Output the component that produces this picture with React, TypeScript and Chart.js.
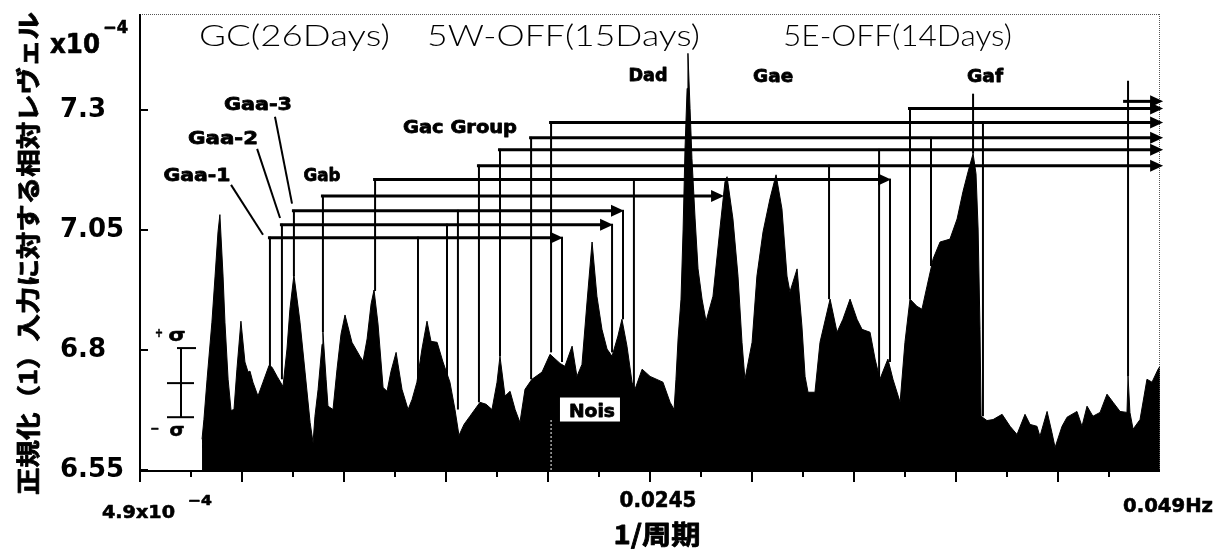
import React, { useEffect, useRef } from 'react';
import { Chart, registerables } from 'chart.js';

Chart.register(...registerables);

// Spectrum: frequency (Hz) and normalized level (x10^-4)
const FREQ_HZ = [
  0.00344, 0.00353, 0.00368, 0.00391, 0.00406, 0.0042, 0.00429, 0.00444, 0.00453, 0.00468,
  0.00482, 0.00496, 0.0051, 0.00529, 0.00548, 0.00563, 0.00572, 0.00586, 0.0061, 0.00634,
  0.00663, 0.00677, 0.00701, 0.00729, 0.00748, 0.00762, 0.00781, 0.00796, 0.0081, 0.00834,
  0.00858, 0.00872, 0.00881, 0.00896, 0.00915, 0.00919, 0.00934, 0.00943, 0.00967, 0.00986,
  0.01005, 0.01024, 0.01057, 0.01095, 0.0111, 0.01129, 0.01148, 0.01162, 0.01181, 0.01205,
  0.01224, 0.01243, 0.01267, 0.01295, 0.01324, 0.01343, 0.01366, 0.0139, 0.01414, 0.01433,
  0.01462, 0.0149, 0.01523, 0.01547, 0.01566, 0.0159, 0.01618, 0.01666, 0.01695, 0.01723,
  0.01747, 0.01761, 0.01785, 0.01809, 0.01833, 0.01856, 0.0188, 0.01913, 0.01961, 0.01999,
  0.02047, 0.0207, 0.02104, 0.02127, 0.02151, 0.02175, 0.02199, 0.02222, 0.02246, 0.0227,
  0.02294, 0.02322, 0.02341, 0.02365, 0.02389, 0.02403, 0.02437, 0.02475, 0.02536, 0.0257,
  0.02589, 0.02598, 0.02608, 0.02622, 0.02632, 0.02641, 0.02651, 0.02655, 0.02665, 0.02674,
  0.02689, 0.02703, 0.02722, 0.02741, 0.02774, 0.02807, 0.02831, 0.02841, 0.02869, 0.02893,
  0.02912, 0.02926, 0.0296, 0.02983, 0.03012, 0.03045, 0.03074, 0.03102, 0.03126, 0.0314,
  0.03174, 0.03197, 0.03212, 0.03226, 0.03259, 0.03283, 0.03331, 0.03364, 0.03392, 0.03426,
  0.03459, 0.03483, 0.03521, 0.03545, 0.03568, 0.03592, 0.03606, 0.0363, 0.03664, 0.03687,
  0.03711, 0.03744, 0.03768, 0.03792, 0.03821, 0.03854, 0.03901, 0.03935, 0.03963, 0.03987,
  0.04011, 0.04025, 0.04035, 0.04044, 0.04049, 0.04077, 0.04106, 0.04149, 0.04187, 0.0422,
  0.04258, 0.04282, 0.04315, 0.04329, 0.04363, 0.04386, 0.04401, 0.04434, 0.04458, 0.04505,
  0.04529, 0.04553, 0.04581, 0.04615, 0.04648, 0.04677, 0.0471, 0.04743, 0.04748, 0.04757,
  0.04772, 0.04805, 0.04838, 0.04862, 0.04891, 0.049,
];

const LEVEL = [
  6.614, 6.655, 6.739, 6.858, 6.954, 7.046, 7.082, 6.954, 6.858, 6.739,
  6.674, 6.676, 6.76, 6.86, 6.775, 6.754, 6.756, 6.733, 6.704, 6.733,
  6.768, 6.764, 6.745, 6.724, 6.802, 6.885, 6.956, 6.906, 6.858, 6.754,
  6.649, 6.607, 6.662, 6.718, 6.812, 6.837, 6.739, 6.683, 6.676, 6.76,
  6.833, 6.873, 6.816, 6.787, 6.777, 6.823, 6.896, 6.925, 6.854, 6.722,
  6.714, 6.756, 6.795, 6.718, 6.676, 6.697, 6.733, 6.802, 6.86, 6.818,
  6.816, 6.775, 6.733, 6.676, 6.622, 6.645, 6.662, 6.691, 6.687, 6.676,
  6.733, 6.787, 6.704, 6.714, 6.676, 6.649, 6.718, 6.739, 6.754, 6.791,
  6.772, 6.766, 6.808, 6.745, 6.77, 6.9, 7.025, 6.912, 6.843, 6.802,
  6.787, 6.829, 6.864, 6.808, 6.733, 6.718, 6.76, 6.745, 6.733, 6.691,
  6.676, 6.739, 6.823, 6.906, 7.052, 7.219, 7.345, 7.418, 7.303, 7.199,
  7.073, 6.969, 6.906, 6.86, 6.912, 7.052, 7.15, 7.161, 7.073, 6.954,
  6.816, 6.739, 6.816, 6.954, 7.046, 7.115, 7.165, 7.094, 6.954, 6.921,
  6.969, 6.85, 6.745, 6.712, 6.712, 6.816, 6.906, 6.837, 6.864, 6.906,
  6.864, 6.843, 6.837, 6.781, 6.739, 6.766, 6.781, 6.739, 6.691, 6.816,
  6.906, 6.891, 6.885, 6.933, 6.99, 7.025, 7.031, 7.073, 7.13, 7.171,
  7.209, 7.167, 7.052, 6.843, 6.662, 6.653, 6.655, 6.666, 6.641, 6.624,
  6.666, 6.645, 6.641, 6.62, 6.672, 6.628, 6.597, 6.641, 6.66, 6.672,
  6.641, 6.683, 6.662, 6.67, 6.708, 6.691, 6.672, 6.67, 6.745, 6.67,
  6.635, 6.655, 6.739, 6.733, 6.76, 6.766,
];

const X_MIN = 0.00049;
const X_MAX = 0.049;
const X_DIVISIONS = 20;
const Y_MIN = 6.55;
const Y_MAX = 7.5;
const Y_TICKS = [6.55, 6.8, 7.05, 7.3];
const Y_TICK_LABELS = ['6.55', '6.8', '7.05', '7.3'];

const TITLE_PARTS = ['GC(26Days)', '5W-OFF(15Days)', '5E-OFF(14Days)'];
const Y_TITLE = '正規化（1）入力に対する相対レヴェル';
const X_TITLE = '1/周期';

// Harmonic brackets: horizontal level, drop lines [freq, bottom level], arrow tip freq
const BRACKETS = [
  { level: 7.034, drops: [[0.00667, 6.766], [0.01371, 6.718], [0.02056, 6.775]], to: 0.02056 },
  { level: 7.061, drops: [[0.00724, 6.739], [0.01509, 6.745], [0.02294, 6.795]], to: 0.02294 },
  { level: 7.09, drops: [[0.00781, 6.954], [0.01561, 6.676], [0.02346, 6.864]], to: 0.02346 },
  { level: 7.121, drops: [[0.00919, 6.837]], to: 0.02822 },
  { level: 7.155, drops: [[0.01167, 6.923], [0.02398, 6.718], [0.03616, 6.775]], to: 0.03616 },
  { level: 7.184, drops: [[0.01661, 6.691], [0.03326, 6.906]], to: 0.0491 },
  { level: 7.217, drops: [[0.01761, 6.787], [0.03564, 6.739]], to: 0.0491 },
  { level: 7.242, drops: [[0.01909, 6.739], [0.03811, 6.975]], to: 0.0491 },
  { level: 7.274, drops: [[0.02004, 6.795], [0.04058, 6.662]], to: 0.0491 },
  { level: 7.303, drops: [[0.03711, 6.906]], to: 0.0491 },
  { level: 7.318, drops: [], from: 0.04734, to: 0.0491 },
];
const MARK_LINES = [
  [0.04748, 7.361, 6.745],
  [0.04011, 7.334, 7.209],
];
const PEAK_LABELS = [
  { text: 'Gaa-1', f: 0.0032, v: 7.167, w: 67 },
  { text: 'Gaa-2', f: 0.00444, v: 7.244, w: 70 },
  { text: 'Gaa-3', f: 0.0061, v: 7.315, w: 68 },
  { text: 'Gab', f: 0.00915, v: 7.167, w: 37 },
  { text: 'Gac Group', f: 0.01571, v: 7.267, w: 114 },
  { text: 'Dad', f: 0.02465, v: 7.376, w: 39 },
  { text: 'Gae', f: 0.0306, v: 7.372, w: 40 },
  { text: 'Gaf', f: 0.04068, v: 7.372, w: 36 },
];
const LEADERS = [
  [0.00482, 7.144, 0.00634, 7.04],
  [0.00606, 7.219, 0.00715, 7.075],
  [0.00691, 7.286, 0.00772, 7.105],
];
const NOISE = { f: 0.02189, v: 6.676, lineF: 0.02004, lineTop: 6.655 };
const SIGMA = { f: 0.00244, plus: 6.804, mean: 6.731, minus: 6.66 };

const BOLD = '"DejaVu Sans", "Liberation Sans", sans-serif';
const SANS = '"Liberation Sans", Arial, sans-serif';
const CJK = '"Noto Sans CJK JP", "Noto Sans CJK SC", sans-serif';

function fitText(
  ctx: CanvasRenderingContext2D,
  text: string,
  x: number,
  baseline: number,
  font: string,
  width: number,
  align: 'left' | 'center' = 'center',
  heavy = 0,
) {
  ctx.save();
  ctx.font = font;
  const m = ctx.measureText(text).width;
  const sx = width / m;
  const x0 = align === 'center' ? x - width / 2 : x;
  ctx.translate(x0, baseline);
  ctx.scale(sx, 1);
  ctx.textAlign = 'left';
  ctx.textBaseline = 'alphabetic';
  ctx.fillStyle = '#000';
  ctx.fillText(text, 0, 0);
  if (heavy > 0) {
    ctx.strokeStyle = '#000';
    ctx.lineWidth = heavy;
    ctx.lineJoin = 'round';
    ctx.strokeText(text, 0, 0);
  }
  ctx.restore();
}

const decorPlugin = {
  id: 'decor',
  afterDatasetsDraw(chart: any) {
    const { ctx, chartArea: a, scales } = chart;
    const xs = scales.x;
    const ys = scales.y;
    const X = (f: number) => xs.getPixelForValue(f);
    const Y = (v: number) => ys.getPixelForValue(v);
    const line = (x1: number, y1: number, x2: number, y2: number) => {
      ctx.beginPath();
      ctx.moveTo(x1, y1);
      ctx.lineTo(x2, y2);
      ctx.stroke();
    };
    ctx.save();
    ctx.fillStyle = '#000';
    ctx.strokeStyle = '#000';

    // frame
    ctx.lineWidth = 1;
    ctx.strokeStyle = '#555';
    ctx.setLineDash([1, 1]);
    line(a.left, a.top + 0.5, a.right, a.top + 0.5);
    line(a.right - 0.5, a.top, a.right - 0.5, a.bottom);
    ctx.setLineDash([]);
    ctx.strokeStyle = '#000';
    ctx.lineWidth = 2;
    line(a.left, a.top, a.left, a.bottom + 1);
    line(a.left, a.bottom + 1, a.right, a.bottom + 1);

    // y ticks (inward)
    ys.ticks.forEach((t: any) => {
      const py = Y(t.value);
      line(a.left, py, a.left + 8, py);
    });
    // x ticks (outward, alternating length)
    xs.ticks.forEach((t: any, i: number) => {
      if (i === xs.ticks.length - 1) return;
      const px = X(t.value);
      line(px, a.bottom, px, a.bottom + (i % 2 === 0 ? 12 : 7));
    });

    // noise marker (dotted white line + box)
    ctx.strokeStyle = '#fff';
    ctx.lineWidth = 1;
    ctx.setLineDash([2, 2]);
    line(X(NOISE.lineF), a.bottom, X(NOISE.lineF), Y(NOISE.lineTop));
    ctx.setLineDash([]);
    ctx.strokeStyle = '#000';
    const nx = X(NOISE.f);
    const ny = Y(NOISE.v);
    ctx.fillStyle = '#fff';
    ctx.fillRect(nx - 30, ny - 12, 60, 24);
    ctx.fillStyle = '#000';
    fitText(ctx, 'Nois', nx + 2, ny + 7, `bold 18px ${BOLD}`, 46, 'center', 0.8);

    // brackets
    BRACKETS.forEach((b: any) => {
      const py = Y(b.level);
      const startF = b.from !== undefined ? b.from : b.drops[0][0];
      const x0 = X(startF) - 2;
      const tip = X(b.to);
      ctx.lineWidth = 3;
      line(x0, py, tip - 10, py);
      ctx.beginPath();
      ctx.moveTo(tip + 1, py);
      ctx.lineTo(tip - 12, py - 6);
      ctx.lineTo(tip - 12, py + 6);
      ctx.closePath();
      ctx.fill();
      ctx.lineWidth = 2;
      b.drops.forEach(([f, v]: number[]) => line(X(f), py - 1, X(f), Y(v)));
    });
    ctx.lineWidth = 2;
    MARK_LINES.forEach(([f, top, bot]) => line(X(f), Y(top), X(f), Y(bot)));

    // leaders
    LEADERS.forEach(([f1, v1, f2, v2]) => line(X(f1), Y(v1), X(f2), Y(v2)));

    // peak labels
    PEAK_LABELS.forEach((l) => {
      fitText(ctx, l.text, X(l.f), Y(l.v) + 7, `bold 18px ${BOLD}`, l.w, 'center', 0.8);
    });

    // sigma bar
    const sx = X(SIGMA.f);
    const sp = Y(SIGMA.plus);
    const sm = Y(SIGMA.mean);
    const sn = Y(SIGMA.minus);
    ctx.lineWidth = 2;
    line(sx, sp, sx, sn);
    line(sx - 4, sp, sx + 15, sp);
    line(sx - 14, sm, sx + 13, sm);
    line(sx - 14, sn, sx + 13, sn);
    fitText(ctx, '+', sx - 22, sp - 11, `bold 13px ${BOLD}`, 8, 'center', 0.6);
    fitText(ctx, 'σ', sx - 4, sp - 7, `bold 17px ${BOLD}`, 17, 'center', 0.6);
    fitText(ctx, '−', sx - 26, sn + 16, `bold 13px ${BOLD}`, 9, 'center', 0.6);
    fitText(ctx, 'σ', sx - 4, sn + 19, `bold 17px ${BOLD}`, 15, 'center', 0.6);

    // title parts
    const titleFont = `300 29px Lato, ${SANS}`;
    fitText(ctx, TITLE_PARTS[0], a.left + 59, a.top + 32, titleFont, 191, 'left');
    fitText(ctx, TITLE_PARTS[1], a.left + 287, a.top + 32, titleFont, 273, 'left');
    fitText(ctx, TITLE_PARTS[2], a.left + 643, a.top + 32, titleFont, 229, 'left');

    // y exponent
    fitText(ctx, 'x10', a.left - 90, a.top + 39, `bold 26px ${BOLD}`, 50, 'left', 0.6);
    fitText(ctx, '−4', a.left - 37, a.top + 19, `bold 17px ${BOLD}`, 25, 'left', 0.6);

    // x tick labels
    const t0 = X(xs.ticks[0].value);
    const t10 = X(xs.ticks[10].value);
    const t20 = X(xs.ticks[20].value);
    fitText(ctx, '4.9x10', t0 - 38, a.bottom + 48, `bold 18px ${BOLD}`, 73, 'left', 0.6);
    fitText(ctx, '−4', t0 + 48, a.bottom + 35, `bold 14px ${BOLD}`, 24, 'left', 0.6);
    fitText(ctx, '0.0245', t10 + 8, a.bottom + 37, `bold 22px ${BOLD}`, 77, 'center', 0.6);
    fitText(ctx, '0.049Hz', t20 + 8, a.bottom + 42, `bold 20px ${BOLD}`, 90, 'center', 0.6);

    // axis titles
    fitText(ctx, X_TITLE, (a.left + a.right) / 2 + 7, a.bottom + 74, `bold 26px ${CJK}`, 87, 'center', 0.8);
    ctx.save();
    ctx.translate(37, 495);
    ctx.rotate(-Math.PI / 2);
    fitText(ctx, Y_TITLE, 0, 0, `bold 24px ${CJK}`, 483, 'left', 0.8);
    ctx.restore();

    ctx.restore();
  },
};

export default function App() {
  const ref = useRef<HTMLCanvasElement>(null);
  useEffect(() => {
    if (!ref.current) return;
    const chart = new Chart(ref.current, {
      type: 'line',
      data: {
        datasets: [
          {
            data: FREQ_HZ.map((f, i) => ({ x: f, y: LEVEL[i] })),
            borderColor: '#000',
            backgroundColor: '#000',
            borderWidth: 1,
            pointRadius: 0,
            fill: 'start',
            tension: 0,
          },
        ],
      },
      options: {
        animation: false,
        responsive: false,
        maintainAspectRatio: false,
        devicePixelRatio: 1,
        events: [],
        layout: { padding: { left: 60, top: 14, right: 63, bottom: 0 } },
        plugins: { legend: { display: false }, tooltip: { enabled: false } },
        scales: {
          x: {
            type: 'linear',
            min: X_MIN,
            max: X_MAX,
            grid: { display: false },
            border: { display: false },
            ticks: { display: false },
            afterBuildTicks: (s: any) => {
              const step = (X_MAX - X_MIN) / X_DIVISIONS;
              s.ticks = Array.from({ length: X_DIVISIONS + 1 }, (_, i) => ({ value: X_MIN + i * step }));
            },
            afterFit: (s: any) => {
              s.height = 79;
              s.paddingLeft = 0;
              s.paddingRight = 0;
            },
          },
          y: {
            type: 'linear',
            min: Y_MIN,
            max: Y_MAX,
            grid: { display: false },
            border: { display: false },
            afterBuildTicks: (s: any) => {
              s.ticks = Y_TICKS.map((v) => ({ value: v }));
            },
            ticks: {
              crossAlign: 'far',
              color: '#000',
              font: { family: BOLD, size: 26, weight: 'bold' },
              callback: (_v: any, i: number) => Y_TICK_LABELS[i],
            },
            afterFit: (s: any) => {
              s.width = 80;
              s.paddingTop = 0;
              s.paddingBottom = 0;
            },
          },
        },
      } as any,
      plugins: [decorPlugin],
    });
    return () => chart.destroy();
  }, []);
  return (
    <div style={{ position: 'fixed', left: 0, top: 0, width: 1223, height: 549, background: '#fff' }}>
      <canvas ref={ref} width={1223} height={549} style={{ display: 'block' }} />
    </div>
  );
}
